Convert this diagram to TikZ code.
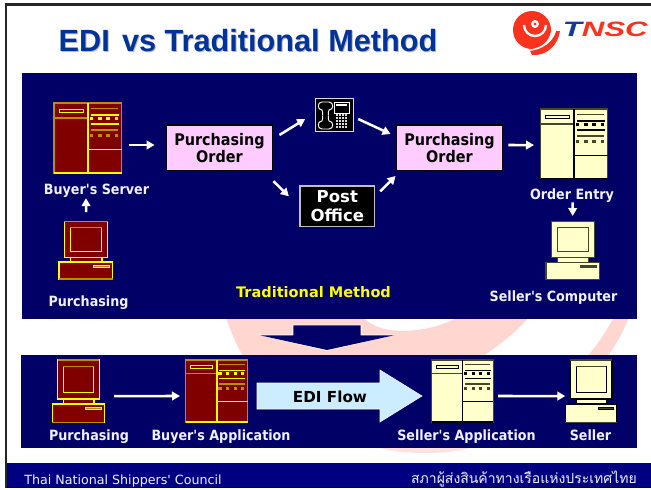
\documentclass[tikz,border=0pt]{standalone}
\usepackage{fontspec}
\usetikzlibrary{calc,arrows.meta}
\newfontfamily\lblfont{DejaVu Sans}
\newfontfamily\lblwide{DejaVu Sans Bold}
\newfontfamily\lblbold[FakeStretch=0.9]{DejaVu Sans Bold}
\newfontfamily\ttlfont{Liberation Sans Bold}
\newfontfamily\thaifont[Script=Thai]{Loma}
\newfontfamily\logofont{Liberation Sans Bold Italic}
\definecolor{navy}{RGB}{0,0,102}
\definecolor{footnavy}{RGB}{0,0,128}
\definecolor{titleblue}{RGB}{0,51,153}
\definecolor{wmark}{RGB}{255,214,208}
\definecolor{darkred}{RGB}{128,0,0}
\definecolor{yel}{RGB}{255,255,0}
\definecolor{dyel}{RGB}{190,140,0}
\definecolor{cream}{RGB}{255,255,204}
\definecolor{dk}{RGB}{70,70,40}
\definecolor{logored}{RGB}{250,50,30}
\definecolor{logoblue}{RGB}{20,60,150}
\definecolor{pinkbox}{RGB}{255,204,255}
\definecolor{edibox}{RGB}{204,236,255}
\definecolor{lbl}{RGB}{240,240,255}
\tikzset{
  arr/.style={draw=white,line width=1.9pt,-{Triangle[length=6pt,width=6.5pt]}},
  lbltext/.style={font=\lblbold\fontsize{10.6}{12}\selectfont,text=lbl,inner sep=0pt,anchor=base},
  pobox/.style={draw=black,line width=0.9pt,fill=pinkbox,minimum width=80pt,minimum height=34pt,inner sep=0pt,align=center,font=\lblbold\fontsize{12}{12.8}\selectfont,text=black},
  iconbox/.style={inner sep=0pt,outer sep=0pt,anchor=north west},
}
% name, x, y, w, h, fill, bright line, dim line
\newcommand\srvicon[8]{%
  \node[iconbox,minimum width=#4*0.75pt,minimum height=#5*0.75pt] (#1) at (#2,#3) {};
  \begin{scope}[shift={(#2,#3)},x=#4*0.75pt,y=-#5*0.75pt]
    \fill[#6] (0,0) rectangle (1,1);
    \draw[#8,line width=0.9pt] (0,0) rectangle (1,1);
    \draw[#7,line width=0.9pt] (0,1) -- (1,1);
    \draw[#8,line width=0.9pt] (0,.214) -- (.5,.214);
    \draw[#7,line width=1.2pt] (.5,0) -- (.5,1);
    \draw[#7,line width=0.7pt] (.5,.661) -- (1,.661);
    \draw[#7,line width=0.7pt,fill=#6] (.074,.086) rectangle (.43,.129);
    \draw[#8,line width=1.1pt] (.54,.076) -- (.95,.076);
    \draw[#7,line width=1.1pt] (.54,.171) -- (.96,.171);
    \draw[#7,line width=1.1pt] (.54,.3) -- (.96,.3);
    \draw[#8,line width=1.1pt] (.54,.386) -- (.95,.386);
    \foreach \q in {.554,.677,.796,.923}{
      \fill[#7] (\q-.025,.224-.025) rectangle (\q+.025,.224+.025);
      \fill[#8] (\q-.025,.466-.025) rectangle (\q+.025,.466+.025);
    }
  \end{scope}}
\newcommand\pcicon[8]{%
  \node[iconbox,minimum width=#4*0.75pt,minimum height=#5*0.75pt] (#1) at (#2,#3) {};
  \begin{scope}[shift={(#2,#3)},x=#4*0.75pt,y=-#5*0.75pt]
    \draw[#7,fill=#6,line width=0.9pt] (.211,.621) rectangle (.8,.703);
    \draw[#7,fill=#6,line width=0.9pt] (.1,0) rectangle (.907,.621);
    \draw[#8,line width=0.9pt] (.1,0) -- (.907,0);
    \draw[#7,line width=0.8pt] (.211,.105) rectangle (.8,.524);
    \draw[#8,line width=0.8pt] (.211,.105) -- (.8,.105);
    \draw[#7,fill=#6,line width=0.9pt] (0,.703) rectangle (1,1);
    \draw[#8,line width=0.9pt] (0,1) -- (1,1);
    \draw[#7,fill=#8,line width=0.5pt] (.64,.754) rectangle (.94,.794);
  \end{scope}}
\begin{document}
\begin{tikzpicture}[x=0.75pt,y=-0.75pt]
\useasboundingbox (0,0) rectangle (651,490);
\fill[white] (0,0) rectangle (651,490);
% watermark
\fill[wmark] (226,317) .. controls (231,332) and (236,345) .. (244,357) -- (481,357)
  .. controls (500,345) and (515,333) .. (529,317) -- (458,317)
  .. controls (440,328) and (410,333) .. (390,330) .. controls (378,328) and (370,324) .. (362,317) -- cycle;
\fill[wmark] (614,317) .. controls (606,332) and (597,345) .. (587,357) -- (607,357)
  .. controls (616,345) and (623,332) .. (629,317) -- cycle;
\fill[wmark!70!white] (377,447) .. controls (400,455) and (450,455) .. (473,447) -- cycle;
% frame
\fill[black!85] (5,3) rectangle (651,5.5);
\fill[black!85] (5,3) rectangle (7,488);
% panels
\fill[navy] (22,73) rectangle (637,319);
\fill[navy] (21,355) rectangle (637,448);
\fill[footnavy] (7,463) rectangle (651,487);
\fill[black] (7,487) rectangle (651,488.3);
% title
\node[font=\ttlfont\fontsize{23}{28}\selectfont,text=black!28,inner sep=0pt] at (249,41.5) {EDI\hspace{0.12em} vs Traditional Method};
\node[font=\ttlfont\fontsize{23}{28}\selectfont,text=titleblue,inner sep=0pt] (title) at (248,40.5) {EDI\hspace{0.12em} vs Traditional Method};
% logo
\fill[logored] (532,30) circle (19);
\fill[logored] (529,49) .. controls (542,48) and (553,42) .. (556,31) -- (560,31)
  .. controls (558,46) and (546,56) .. (532,55) -- cycle;
\fill[white] (529,49.5) .. controls (542,48) and (549,42) .. (551.5,30) -- (556,31) .. controls (553,42) and (542,50) .. (529,51) -- cycle;
\draw[white,line width=1.7pt] (546,25) arc[start angle=0,end angle=180,radius=11];
\fill[white] (535,24) circle (4);
\fill[logored] (535,24) circle (1.6);
\node[inner sep=0pt,anchor=base west] (logotext) at (562.5,36) {\scalebox{1.5}[1.0]{\logofont\fontsize{15.6}{16}\selectfont\textcolor{logoblue}{T}\textcolor{logored}{NSC}}};
% top row
\srvicon{srvA}{54}{103}{67.7}{70}{darkred}{yel}{dyel}
\pcicon{pcA}{59}{221.7}{53.7}{57.3}{darkred}{yel}{dyel}
\srvicon{srvB}{540.7}{109}{67}{69.7}{cream}{black}{dk}
\pcicon{pcB}{546}{221.7}{53.3}{57.6}{cream}{dk}{dk}
\node[pobox] (poA) at (219.5,147.7) {Purchasing\\Order};
\node[pobox] (poB) at (449.5,147.7) {Purchasing\\Order};
% phone
\node[draw=white!85!black,line width=0.8pt,fill=black,minimum width=28.5pt,minimum height=24.5pt,inner sep=0pt] (phone) at (334.7,115) {};
\draw[white,line width=0.7pt,line join=round] (322,102) .. controls (317,102) and (317,110) .. (322,110)
  .. controls (323,112) and (323,119) .. (322,121) .. controls (317,121) and (317,129) .. (322,129)
  -- (329,129) .. controls (334,129) and (334,121) .. (329,121) .. controls (328,119) and (328,112) .. (329,110)
  .. controls (334,110) and (334,102) .. (329,102) -- cycle;
\draw[white,line width=0.7pt] (334,102) rectangle (349,113);
\fill[white] (336,104) rectangle (347,106) ;
\foreach \dx in {337,340,343,346}{\foreach \dy in {115,118,121,124,127}{\fill[white!85!black] (\dx-1,\dy-1) rectangle (\dx+1,\dy+1);}}
% post office
\node[draw=black!25,line width=0.9pt,fill=black,minimum width=56pt,minimum height=30.5pt,inner sep=0pt,align=center,font=\lblwide\fontsize{12.4}{14.6}\selectfont,text=white] (post) at (337.3,206.3) {Post\\Office};
% labels
\node[lbltext] (lBS) at (96.5,194.3) {Buyer's Server};
\node[lbltext] (lPA) at (88.5,306) {Purchasing};
\node[lbltext] (lOE) at (572,199) {Order Entry};
\node[lbltext] (lSC) at (553.5,301) {Seller's Computer};
\node[lbltext,font=\lblwide\fontsize{10.9}{12}\selectfont,text=yel] (lTM) at (313.5,297.5) {Traditional Method};
% top connectors
\draw[arr] ($(srvA.east)+(7.5,7)$) -- ($(poA.west)+(-11,-2.7)$);
\draw[arr] ($(pcA.north)+(.2,-9.7)$) -- ($(lBS.south)+(-10.5,0.5)$);
\draw[arr] ($(poA.east)+(6,-12.7)$) -- ($(phone.west)+(-10,4)$);
\draw[arr] ($(poA.east)+(0,33.5)$) -- ($(post.west)+(-10.5,-10)$);
\draw[arr] ($(phone.east)+(4,4)$) -- ($(poB.west)+(-5,-13.7)$);
\draw[arr] ($(post.east)+(5,-15)$) -- ($(poB.west)+(0,28.3)$);
\draw[arr] ($(poB.east)+(5,-2.7)$) -- ($(srvB.west)+(-6.7,1.2)$);
\draw[arr] ($(lOE.south)+(.7,0)$) -- ($(pcB.north)+(0,-5.7)$);
% transition arrow
\node[inner sep=0pt] (flowdown) at (327,337) {};
\fill[white] (257,334.5) -- (292.5,334.5) -- (292.5,324.5) -- (361.5,324.5) -- (361.5,334.5) -- (396,334.5) -- (327,351) -- cycle;
\fill[navy] (260,335.3) -- (293.3,335.3) -- (293.3,325.3) -- (360.7,325.3) -- (360.7,335.3) -- (394,335.3) -- (327,350) -- cycle;
% bottom row
\pcicon{pcC}{52.3}{360}{52}{62.7}{darkred}{yel}{dyel}
\srvicon{srvC}{185.7}{360}{62}{62}{darkred}{yel}{dyel}
\srvicon{srvD}{431.7}{360}{61.6}{62}{cream}{black}{dk}
\pcicon{pcD}{565.3}{360}{51.4}{62.7}{cream}{black}{dk}
\node[lbltext] (lPC) at (89,440) {Purchasing};
\node[lbltext] (lBA) at (221,440) {Buyer's Application};
\node[lbltext] (lSA) at (466.5,440) {Seller's Application};
\node[lbltext] (lSE) at (590.5,440) {Seller};
\draw[arr] ($(pcC.east)+(9.7,4.7)$) -- ($(srvC.west)+(-5.7,5)$);
\draw[arr] ($(srvD.east)+(4.7,5)$) -- ($(pcD.west)+(0,4.7)$);
% EDI flow
\fill[edibox,draw=white!85!edibox,line width=0.4pt] (257,383) -- (380,383) -- (380,370) -- (422,396) -- (380,422) -- (380,409) -- (257,409) -- cycle;
\node[font=\lblwide\fontsize{11.4}{13}\selectfont,text=black,inner sep=0pt] (edi) at (330,397) {EDI Flow};
% footer
\node[font=\lblfont\fontsize{9.5}{11}\selectfont,text=lbl,inner sep=0pt,anchor=base west] (fl) at (24,484.5) {Thai National Shippers' Council};
\node[font=\thaifont\fontsize{10.5}{13}\selectfont,text=lbl,inner sep=0pt,anchor=base east] (fr) at (637,483.5) {สภาผู้ส่งสินค้าทางเรือแห่งประเทศไทย};
\end{tikzpicture}
\end{document}
